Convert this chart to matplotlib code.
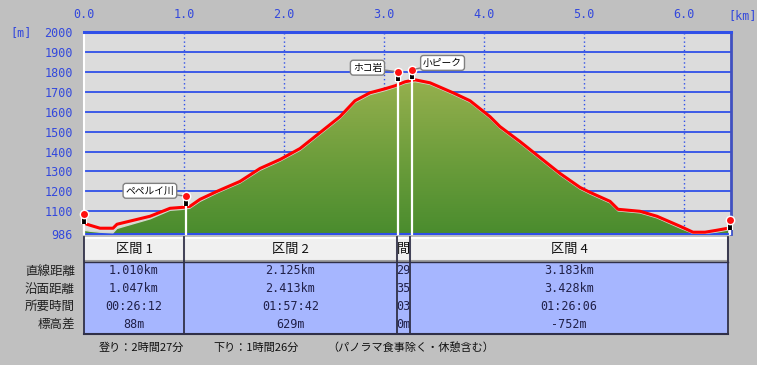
import matplotlib.pyplot as plt
import numpy as np
from matplotlib.patches import Rectangle
from matplotlib.colors import LinearSegmentedColormap

plt.rcParams['font.family'] = ['Noto Sans CJK JP', 'DejaVu Sans']

# GPS track (red line): distance [km], elevation [m]
track_km = [0.00, 0.06, 0.16, 0.29, 0.33, 0.66, 0.86, 0.99, 1.06, 1.16, 1.33, 1.56,
            1.76, 1.96, 2.16, 2.36, 2.56, 2.71, 2.86, 3.01, 3.11, 3.21, 3.31, 3.46,
            3.69, 3.86, 3.96, 4.06, 4.16, 4.36, 4.56, 4.76, 4.96, 5.06, 5.26, 5.34,
            5.56, 5.73, 5.96, 6.09, 6.21, 6.33, 6.44]
track_m = [1040, 1030, 1015, 1015, 1035, 1075, 1115, 1120, 1125, 1160, 1200, 1250,
           1315, 1360, 1415, 1495, 1575, 1655, 1695, 1715, 1730, 1750, 1760, 1745,
           1695, 1655, 1615, 1575, 1525, 1450, 1370, 1290, 1220, 1195, 1150, 1110,
           1100, 1075, 1025, 995, 995, 1005, 1015]

# terrain (green area), read at the same distances
ground_m = [1005, 1000, 995, 992, 1014, 1062, 1105, 1110, 1116, 1150, 1192, 1242,
            1306, 1352, 1406, 1486, 1566, 1646, 1686, 1706, 1722, 1742, 1751, 1737,
            1687, 1647, 1607, 1567, 1517, 1442, 1362, 1282, 1212, 1187, 1142, 1102,
            1092, 1067, 1016, 989, 989, 996, 1006]

# waypoints
pin_km = [0.00, 1.02, 3.14, 3.28, 6.46]
pin_m = [1085, 1175, 1800, 1810, 1055]
pin_names = ["", "ペペルイ川", "ホコ岩", "小ピーク", ""]
pin_offsets = [(0, 0), (-26, 4), (-22, 3), (22, 5), (0, 0)]

x_ticks = [0, 1, 2, 3, 4, 5, 6]
y_ticks = [986, 1100, 1200, 1300, 1400, 1500, 1600, 1700, 1800, 1900, 2000]

# table
section_names = ["区間 1", "区間 2", "間", "区間 4"]
section_edges = [0.0, 1.0, 3.13, 3.26, 6.44]
row_names = ["直線距離", "沿面距離", "所要時間", "標高差"]
straight_dist = ["1.010km", "2.125km", "29", "3.183km"]
surface_dist = ["1.047km", "2.413km", "35", "3.428km"]
time_needed = ["00:26:12", "01:57:42", "03", "01:26:06"]
elev_diff = ["88m", "629m", "0m", "-752m"]

footer = ["登り：2時間27分", "下り：1時間26分", "（パノラマ食事除く・休憩含む）"]
footer_x = [99, 213, 327]

W, H = 757, 365
BLUE = '#3348dc'
GRID = '#3050e8'

fig = plt.figure(figsize=(W / 100, H / 100), dpi=100, facecolor='#c0c0c0')


def px_axes(x0, y0, x1, y1):
    return fig.add_axes([x0 / W, 1 - y1 / H, (x1 - x0) / W, (y1 - y0) / H])


ax = px_axes(84, 32, 731, 234)
ax.set_facecolor('#dcdcdc')

for y in y_ticks[1:-1]:
    ax.axhline(y, color=GRID, lw=1.3, zorder=1)
for k in x_ticks[1:]:
    ax.axvline(k, color=GRID, lw=1, ls=(0, (1, 2)), zorder=1)

# green terrain with gradient
fill = ax.fill_between(track_km, ground_m, 986, facecolor='none', edgecolor='none')
grad = np.linspace(0, 1, 256).reshape(-1, 1)
cmap = LinearSegmentedColormap.from_list('terrain', ['#4a8c2e', '#6e9e3c', '#96b04e'])
im = ax.imshow(grad, extent=[0, 6.47, 986, 1760], origin='lower', cmap=cmap,
               aspect='auto', zorder=2)
im.set_clip_path(fill.get_paths()[0], transform=ax.transData)
ax.plot(track_km, ground_m, color='#d4d8cc', lw=1, zorder=3)

ax.plot(track_km, track_m, color='#ff0000', lw=2.2, zorder=4)

# pins
for k, m, name, off in zip(pin_km, pin_m, pin_names, pin_offsets):
    ax.plot([k, k], [986, m - 45], color='white', lw=1.6, zorder=5, clip_on=False)
    ax.plot([k, k], [m - 50, m], color='white', lw=4.5, solid_capstyle='butt', zorder=6, clip_on=False)
    ax.plot([k, k], [m - 48, m], color='black', lw=2.8, solid_capstyle='butt', zorder=7, clip_on=False)
    ax.plot(k, m, 'o', ms=6, mfc='#ff1010', mec='white', mew=1, zorder=8, clip_on=False)
    if name:
        ax.annotate(name, xy=(k, m), xytext=off, textcoords='offset points',
                    ha='center', va='center', fontsize=7, zorder=9,
                    bbox=dict(boxstyle='round,pad=0.25,rounding_size=0.3', fc='white', ec='#808080', lw=1),
                    arrowprops=dict(arrowstyle='-', color='#808080', lw=1, shrinkA=0, shrinkB=3))

ax.set_xlim(0, 6.47)
ax.set_ylim(986, 2000)
ax.xaxis.tick_top()
ax.set_xticks(x_ticks)
ax.set_xticklabels([f"{k:.1f}" for k in x_ticks], family='DejaVu Sans Mono', fontsize=8.5, color=BLUE)
ax.set_yticks(y_ticks)
ax.set_yticklabels([str(v) for v in y_ticks], family='DejaVu Sans Mono', fontsize=8.5, color=BLUE)
ax.tick_params(axis='x', length=0, pad=8)
ax.tick_params(axis='y', length=0, pad=8)
ax.spines['top'].set_color(GRID)
ax.spines['top'].set_linewidth(2.2)
ax.spines['bottom'].set_color(GRID)
ax.spines['bottom'].set_linewidth(1.5)
ax.spines['right'].set_color('#4050c0')
ax.spines['right'].set_linewidth(2)
ax.spines['left'].set_color('white')
ax.spines['left'].set_linewidth(1.5)

fig.text(10 / W, 1 - 33 / H, "[m]", family='DejaVu Sans Mono', fontsize=8.5, color=BLUE, va='center')
fig.text(743 / W, 1 - 16 / H, "[km]", family='DejaVu Sans Mono', fontsize=8.5, color=BLUE, va='center', ha='center')

# section table
tab = px_axes(84, 237, 731, 334)
tab.set_xlim(0, 6.47)
tab.set_ylim(334, 237)
tab.axis('off')

rows = [straight_dist, surface_dist, time_needed, elev_diff]
row_y = [271, 289, 306, 324]
for i, name in enumerate(section_names):
    e0, e1 = section_edges[i], section_edges[i + 1]
    tab.add_patch(Rectangle((e0, 237), e1 - e0, 25, fc='#f0f0f0', ec='none', zorder=1))
    tab.plot([e0, e0, e1], [261, 238, 238], color='white', lw=1.5, zorder=2)
    tab.plot([e0, e1, e1], [261, 261, 238], color='#a0a0a0', lw=1.5, zorder=2)
    tab.add_patch(Rectangle((e0, 262), e1 - e0, 72, fc='#a6b6ff', ec='none', zorder=1))
    clip = Rectangle((e0, 237), e1 - e0, 97, transform=tab.transData, fill=False)
    t = tab.text((e0 + e1) / 2, 249.5, name, ha='center', va='center', fontsize=9.5, color='#101010', zorder=3)
    t.set_clip_path(clip)
    for vals, y in zip(rows, row_y):
        t = tab.text((e0 + e1) / 2, y, vals[i], ha='center', va='center', family='DejaVu Sans Mono',
                     fontsize=8.5, color='#202048', zorder=3)
        t.set_clip_path(clip)
for e in section_edges:
    tab.plot([e, e], [237, 334], color='#303048', lw=1.3, zorder=4, clip_on=False)
tab.plot([0, 6.44], [334, 334], color='#303048', lw=1.5, zorder=4, clip_on=False)
tab.plot([0, 6.44], [262, 262], color='#303048', lw=1, zorder=4, clip_on=False)

for name, y in zip(row_names, row_y):
    tab.text(-0.09, y, name, ha='right', va='center', fontsize=9, color='#202020', clip_on=False)

for s, x in zip(footer, footer_x):
    fig.text(x / W, 1 - 348 / H, s, fontsize=8, color='#101010', va='center', ha='left')

fig.savefig('out.png', dpi=100, facecolor=fig.get_facecolor())
